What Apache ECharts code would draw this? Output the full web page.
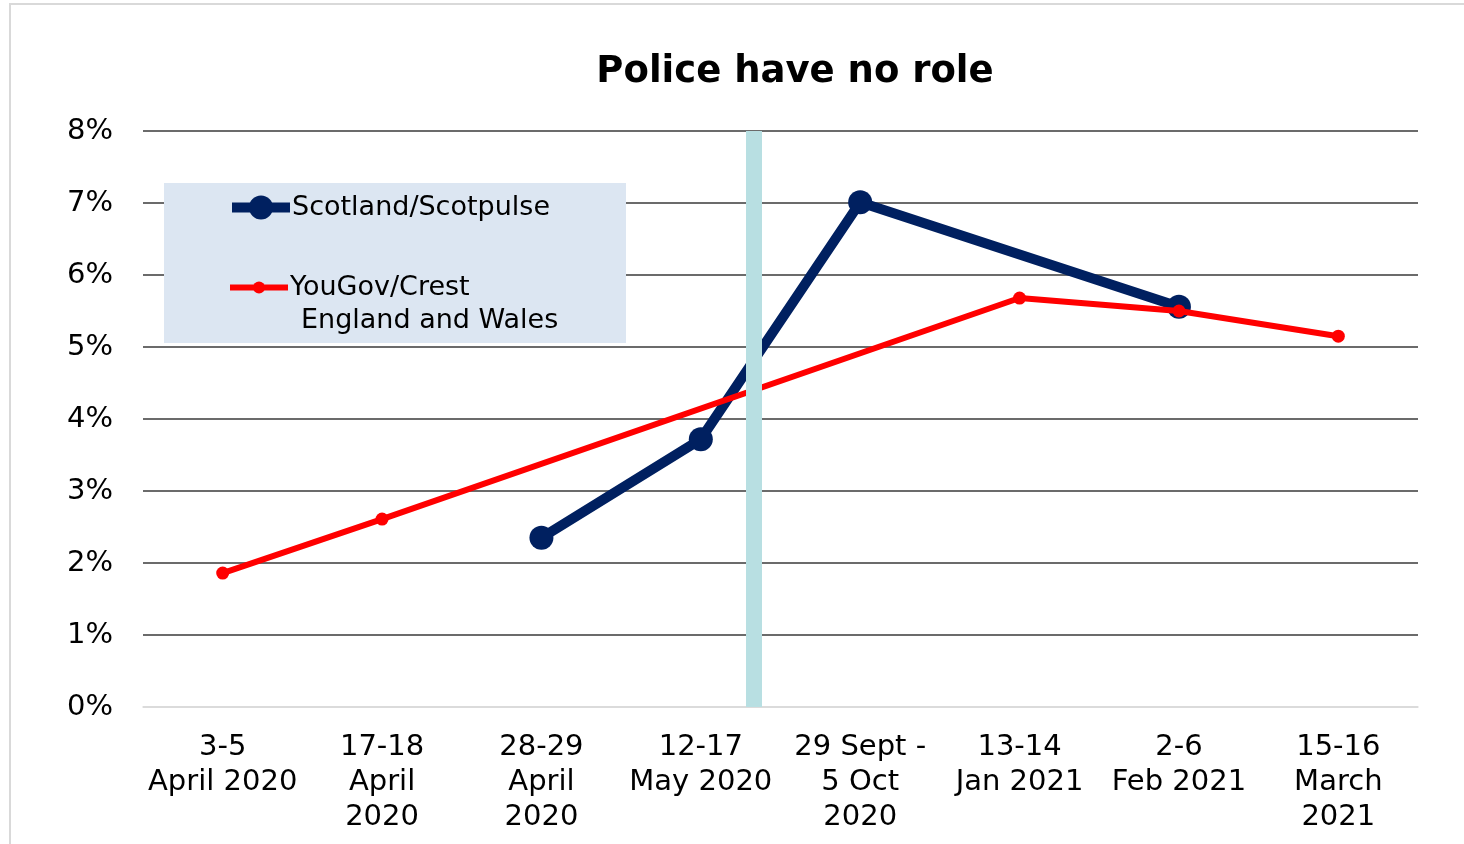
<!DOCTYPE html>
<html><head><meta charset="utf-8">
<script src="https://cdn.jsdelivr.net/npm/echarts@6/dist/echarts.min.js"></script>
<style>html,body{margin:0;padding:0;background:#fff}#c{width:1464px;height:844px}</style>
</head><body><div id="c"></div>
<script>
const categories = ['3-5\nApril 2020','17-18\nApril\n2020','28-29\nApril\n2020','12-17\nMay 2020','29 Sept -\n5 Oct\n2020','13-14\nJan 2021','2-6\nFeb 2021','15-16\nMarch\n2021'];
const scotland = [null, null, 2.35, 3.72, 7.01, null, 5.56, null];
const yougov = [1.86, 2.61, null, null, null, 5.68, 5.5, 5.15];
const yTicks = [0,1,2,3,4,5,6,7,8];
const dividerPos = 3.33;
const seriesNames = ['Scotland/Scotpulse', 'YouGov/Crest\n England and Wales'];
const FONT = 'DejaVu Sans';

const chart = echarts.init(document.getElementById('c'));
chart.setOption({
  animation: false,
  backgroundColor: '#fff',
  textStyle: {fontFamily: FONT},
  title: {text: 'Police have no role', left: 790, textAlign: 'center', top: 49,
    textStyle: {fontFamily: FONT, fontWeight: 'bold', fontSize: 37, color: '#000'}},
  graphic: [
    {type: 'rect', shape: {x: 10, y: 4, width: 1500, height: 900}, style: {fill: 'none', stroke: '#d9d9d9', lineWidth: 2}, z: -10},
    {type: 'rect', shape: {x: 164, y: 183, width: 462, height: 160}, style: {fill: '#dce6f2'}, z: 10},
    {type: 'text', left: 301, top: 307, z: 20,
      style: {text: seriesNames[1].split('\n')[1].trim(), fontFamily: FONT, fontSize: 27, fill: '#000'}}
  ],
  legend: [{
    left: 227, top: 194, padding: 0, z: 20,
    itemWidth: 58, itemHeight: 30,
    lineStyle: {width: 10},
    textStyle: {fontFamily: FONT, fontSize: 27, color: '#000', padding: [0,0,0,-3]},
    data: [seriesNames[0]]
  }, {
    left: 227, top: 274, padding: 0, z: 20,
    itemWidth: 58, itemHeight: 15,
    lineStyle: {width: 6},
    formatter: n => n.split('\n')[0],
    textStyle: {fontFamily: FONT, fontSize: 27, color: '#000', padding: [0,0,0,-3]},
    data: [seriesNames[1]]
  }],
  grid: {left: 143, right: 46, top: 131, bottom: 137},
  xAxis: [{
    type: 'category', data: categories, boundaryGap: true,
    axisLine: {lineStyle: {color: '#d9d9d9', width: 1.5}}, axisTick: {show: false},
    axisLabel: {interval: 0, fontFamily: FONT, fontSize: 29, color: '#000', lineHeight: 35, margin: 23}
  }, {
    type: 'value', min: -0.5, max: 7.5, show: false
  }],
  yAxis: {
    type: 'value', min: 0, max: 8, interval: 1,
    axisLine: {show: false}, axisTick: {show: false},
    axisLabel: {formatter: v => v + '%', fontFamily: FONT, fontSize: 29, color: '#000', margin: 30, padding: [4,0,0,0]},
    splitLine: {lineStyle: {color: yTicks.map((t, i) => i === 0 ? '#d9d9d9' : '#3a3a3a'), width: 1.5}}
  },
  series: [{
    type: 'line', xAxisIndex: 1, data: [], silent: true, z: 1,
    markLine: {silent: true, symbol: 'none', label: {show: false},
      lineStyle: {color: '#b8dfe2', width: 16, type: 'solid'},
      data: [{xAxis: dividerPos}]}
  }, {
    name: seriesNames[0], type: 'line', data: scotland, connectNulls: true, z: 3,
    symbol: 'circle', symbolSize: 24,
    lineStyle: {color: '#002060', width: 10}, itemStyle: {color: '#002060'}
  }, {
    name: seriesNames[1], type: 'line', data: yougov, connectNulls: true, z: 4,
    symbol: 'circle', symbolSize: 13,
    lineStyle: {color: '#ff0000', width: 6}, itemStyle: {color: '#ff0000'}
  }]
});
</script></body></html>
